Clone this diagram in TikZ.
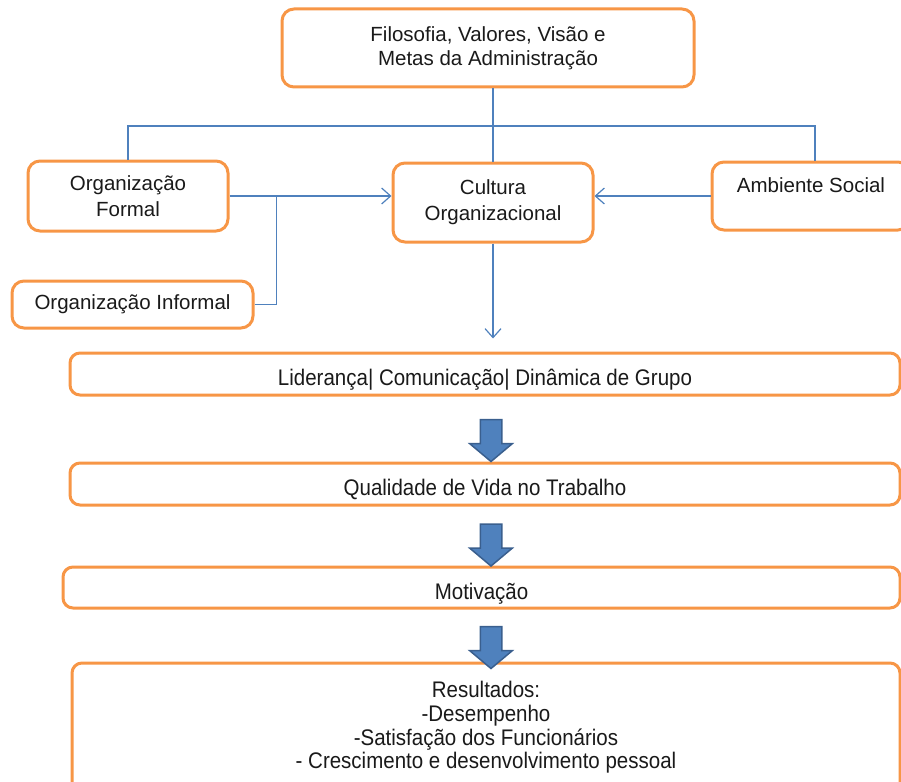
\documentclass[tikz,border=0pt]{standalone}
\usepackage{fontspec}
\setmainfont{Liberation Sans}
\usepackage{graphicx}
\usetikzlibrary{arrows.meta,shapes.arrows,calc}
\definecolor{BoxLine}{HTML}{F79646}
\definecolor{LinkLine}{HTML}{4F81BD}
\definecolor{ArrowFill}{HTML}{4F81BD}
\definecolor{ArrowEdge}{HTML}{3A5F8E}
\definecolor{TextInk}{HTML}{1A1A1A}
\newcommand{\tallish}[1]{\scalebox{1}[1.1]{#1}}

\begin{document}
\begin{tikzpicture}[x=1pt,y=-1pt,
    box/.style={draw=BoxLine,line width=3pt,fill=white,rounded corners=12pt,
      inner sep=0pt,align=center,text=TextInk,font=\fontsize{20.5}{24}\selectfont},
    loose/.style={box,font=\fontsize{20.5}{26}\selectfont},
    flat/.style={box,rounded corners=10pt},
    oneline/.style={flat,text height=28pt,text depth=4.5pt},
    link/.style={draw=LinkLine,line width=1.2pt},
    tip/.style={link,-{Straight Barb[length=9pt,width=16pt,line width=1.2pt]}},
    bigarrow/.style={single arrow,draw=ArrowEdge,fill=ArrowFill,line width=1.5pt,
      rotate=-90,inner xsep=0pt,inner ysep=10pt,minimum height=42pt,minimum width=41pt,
      single arrow head extend=10.5pt,single arrow tip angle=100}]
  \useasboundingbox (0,0) rectangle (901,781);
  \clip (0,0) rectangle (901,781);

  % top row
  \node[box,minimum width=412pt,minimum height=78pt] (meta) at (488,48)
    {Filosofia, Valores, Visão e\\Metas da Administração};
  \node[loose,minimum width=200pt,minimum height=70pt] (formal) at (128,196)
    {Organização\\Formal};
  \node[box,minimum width=241pt,minimum height=47pt] (informal) at (132.5,304.5)
    {Organização Informal};
  \node[loose,minimum width=200pt,minimum height=79pt] (cultura) at (493,202.5)
    {Cultura\\Organizacional};
  \node[box,minimum width=198pt,minimum height=68pt,text height=15pt,text depth=23pt]
    (social) at (811,196) {Ambiente Social};

  % lower chain
  \node[oneline,minimum width=830pt,minimum height=42pt] (lider) at (485,374)
    {\tallish{Liderança| Comunicação| Dinâmica de Grupo}};
  \node[oneline,minimum width=830pt,minimum height=42pt] (vida) at (485,484)
    {\tallish{Qualidade de Vida no Trabalho}};
  \node[oneline,minimum width=837pt,minimum height=41pt] (motiv) at (481.5,587.5)
    {\tallish{Motivação}};
  \node[flat,minimum width=828pt,minimum height=131pt] (result) at (486,728.5)
    {\tallish{\fontsize{20.5}{21.5}\selectfont\begin{tabular}{@{}c@{}}Resultados:\\-Desempenho\\-Satisfação dos Funcionários\\- Crescimento e desenvolvimento pessoal\end{tabular}}};

  % links
  \coordinate (bar) at (491,126);
  \coordinate (join) at ($(formal.east)!0.29!(formal.east -| cultura.west)$);
  \draw[link] (cultura.north |- meta.south) -- (cultura.north);
  \draw[link] (formal.north) |- (bar) -| ($(social.north)+(4,0)$);
  \draw[tip] (formal.east) -- (formal.east -| cultura.west);
  \draw[link] (informal.east) -| (join);
  \draw[tip] (social.west) -- (social.west -| cultura.east);
  \draw[tip,shorten >=13pt] (cultura.south) -- (cultura.south |- lider.north);

  % block arrows
  \node[bigarrow] (a1) at (491,436) {};
  \node[bigarrow] (a2) at (491,540.5) {};
  \node[bigarrow] (a3) at (491,643) {};
\end{tikzpicture}
\end{document}
